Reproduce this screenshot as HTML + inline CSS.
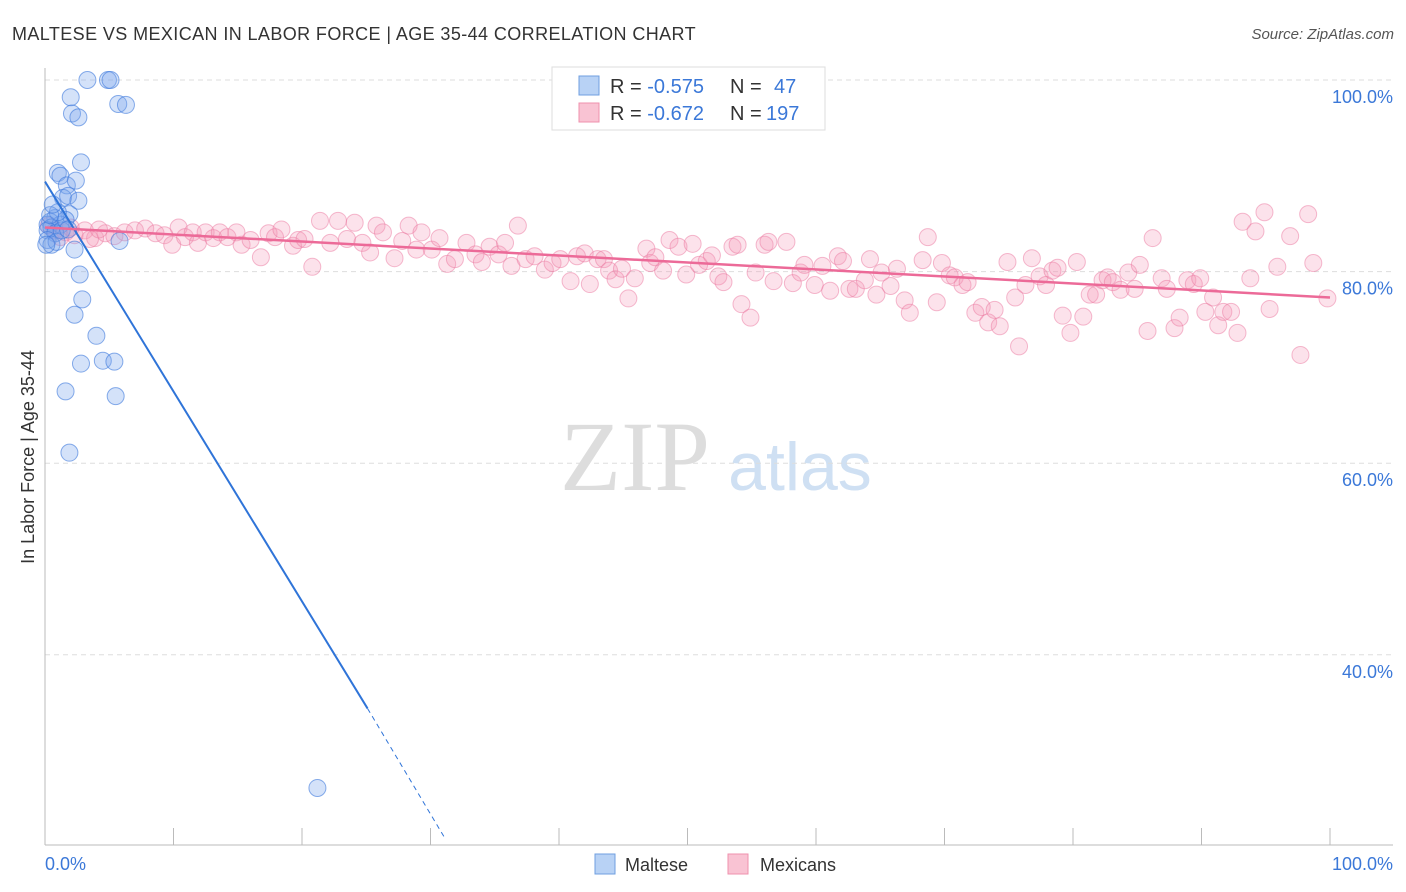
<!DOCTYPE html>
<html><head><meta charset="utf-8">
<style>
body{margin:0;background:#fff;font-family:"Liberation Sans",sans-serif;}
#wrap{position:relative;width:1406px;height:892px;overflow:hidden;}
</style></head>
<body>
<div id="wrap">
<svg id="svg" width="1406" height="892" xmlns="http://www.w3.org/2000/svg">
<text x="12" y="40" font-size="18" letter-spacing="0.4" fill="#333">MALTESE VS MEXICAN IN LABOR FORCE | AGE 35-44 CORRELATION CHART</text>
<text x="1394" y="39" font-size="15" fill="#555" text-anchor="end" font-style="italic">Source: ZipAtlas.com</text>
<text x="0" y="0" transform="translate(34,457) rotate(-90)" font-size="18" fill="#333" text-anchor="middle">In Labor Force | Age 35-44</text>
<g>
<text x="635" y="490" font-size="100" fill="#ddd" text-anchor="middle" font-family="Liberation Serif,serif">ZIP</text>
<text x="800" y="490" font-size="68" fill="#cfe0f3" text-anchor="middle">atlas</text>
</g>
<g id="grid"></g>
<g id="axes"></g>
<g id="pts"></g>
<g id="lines"></g>
<g>
<rect x="552" y="67" width="273" height="63" fill="#fff" stroke="#ddd"/>
<rect x="579" y="76" width="20" height="19" fill="#b8d2f5" stroke="#6f9fe0"/>
<rect x="579" y="103" width="20" height="19" fill="#f9c3d3" stroke="#ef90ae"/>
<text x="610" y="93" font-size="20" fill="#333">R = <tspan fill="#3b78d8">-0.575</tspan><tspan x="730">N = </tspan><tspan x="774" fill="#3b78d8">47</tspan></text>
<text x="610" y="120" font-size="20" fill="#333">R = <tspan fill="#3b78d8">-0.672</tspan><tspan x="730">N = </tspan><tspan x="766" fill="#3b78d8">197</tspan></text>
</g>
<g>
<rect x="595" y="854" width="20" height="20" fill="#b8d2f5" stroke="#6f9fe0"/>
<text x="625" y="871" font-size="18" fill="#333">Maltese</text>
<rect x="728" y="854" width="20" height="20" fill="#f9c3d3" stroke="#ef90ae"/>
<text x="760" y="871" font-size="18" fill="#333">Mexicans</text>
</g>
</svg>
</div>
<script>
const yTicks=[100,80,60,40];
const yTickLabels=["100.0%","80.0%","60.0%","40.0%"];
const xTicks=[0,10,20,30,40,50,60,70,80,90,100];
const xLabels=["0.0%","100.0%"];
const maltese=[[3.3,100],[4.9,100],[5.1,100],[2.0,98.2],[2.1,96.5],[2.6,96.1],[5.7,97.5],[6.3,97.4],[2.8,91.4],[1.0,90.3],[1.2,90.0],[1.7,89.0],[2.4,89.5],[1.4,87.7],[1.8,87.9],[2.6,87.4],[1.9,86.0],[0.8,85.6],[0.4,85.2],[0.2,84.9],[0.5,84.6],[1.2,84.9],[0.2,84.3],[0.8,84.0],[0.2,83.3],[0.5,82.8],[0.9,83.1],[2.3,82.3],[2.7,79.7],[2.9,77.1],[2.3,75.5],[4.0,73.3],[2.8,70.4],[4.5,70.7],[5.4,70.6],[1.6,67.5],[5.5,67.0],[1.9,61.1],[21.2,26.1],[5.8,83.2],[1.3,84.3],[1.6,85.4],[1.0,86.2],[0.4,85.9],[0.6,87.0],[0.1,82.8],[1.8,84.4]];
const mexicans=[[0.8,84.3],[1.6,84.1],[2.3,83.8],[3.1,84.3],[3.9,83.5],[4.7,84.0],[5.4,83.7],[6.2,84.1],[7.0,84.3],[7.8,84.5],[8.6,84.0],[9.3,83.8],[9.9,82.8],[10.4,84.6],[10.9,83.6],[11.5,84.1],[11.9,83.0],[12.5,84.1],[13.1,83.5],[13.6,84.1],[14.2,83.6],[14.9,84.1],[15.3,82.8],[16.0,83.3],[16.8,81.5],[17.4,84.0],[17.9,83.6],[18.4,84.4],[19.3,82.7],[19.7,83.3],[20.2,83.4],[20.8,80.5],[21.4,85.3],[22.2,83.0],[22.8,85.3],[23.5,83.4],[24.1,85.1],[24.7,83.0],[25.3,82.0],[25.8,84.8],[26.3,84.1],[27.2,81.4],[27.8,83.2],[28.3,84.8],[28.9,82.3],[29.3,84.1],[30.1,82.3],[30.7,83.5],[31.3,80.8],[31.9,81.3],[32.8,83.0],[33.5,81.8],[34.0,81.0],[34.6,82.6],[35.3,81.8],[35.8,83.0],[36.3,80.6],[36.8,84.8],[37.4,81.3],[38.1,81.6],[38.9,80.2],[39.5,80.9],[40.1,81.3],[40.9,79.0],[41.4,81.6],[42.0,81.9],[42.4,78.7],[43.0,81.3],[43.5,81.3],[43.9,80.1],[44.4,79.2],[44.9,80.3],[45.4,77.2],[45.9,79.3],[46.8,82.4],[47.1,80.9],[47.5,81.5],[48.1,80.1],[48.6,83.3],[49.3,82.6],[49.9,79.7],[50.4,82.9],[50.9,80.7],[51.5,81.1],[51.9,81.7],[52.4,79.5],[52.8,78.9],[53.5,82.6],[53.9,82.8],[54.2,76.6],[54.9,75.2],[55.3,79.9],[56.0,82.8],[56.3,83.1],[56.7,79.0],[57.7,83.1],[58.2,78.8],[58.8,79.9],[59.1,80.7],[59.9,78.6],[60.5,80.6],[61.1,78.0],[61.7,81.6],[62.1,81.1],[62.6,78.2],[63.1,78.2],[63.8,79.1],[64.2,81.3],[64.7,77.6],[65.1,79.9],[65.8,78.5],[66.3,80.3],[66.9,77.0],[67.3,75.7],[68.3,81.2],[68.7,83.6],[69.4,76.8],[69.8,80.9],[70.4,79.6],[70.8,79.4],[71.4,78.6],[71.8,78.9],[72.4,75.7],[72.9,76.3],[73.4,74.7],[73.9,76.0],[74.3,74.3],[74.9,81.0],[75.5,77.3],[75.8,72.2],[76.3,78.6],[76.8,81.4],[77.4,79.5],[77.9,78.6],[78.4,80.1],[78.8,80.4],[79.2,75.4],[79.8,73.6],[80.3,81.0],[80.8,75.3],[81.3,77.6],[81.8,77.6],[82.3,79.1],[82.7,79.4],[83.1,78.9],[83.7,78.1],[84.3,79.9],[84.8,78.2],[85.2,80.7],[85.8,73.8],[86.2,83.5],[86.9,79.3],[87.3,78.2],[87.9,74.1],[88.3,75.2],[88.9,79.1],[89.4,78.7],[89.9,79.3],[90.3,75.8],[90.9,77.3],[91.3,74.4],[91.7,75.8],[92.3,75.8],[92.8,73.6],[93.2,85.2],[93.8,79.3],[94.2,84.2],[94.9,86.2],[95.3,76.1],[95.9,80.5],[96.9,83.7],[97.7,71.3],[98.3,86.0],[98.7,80.9],[99.8,77.2],[0.3,84.8],[1.2,83.6],[2.0,84.6],[3.5,83.4],[4.2,84.4]];
const blueSolid=[[0,89.4],[25.1,34.4]];
const blueDash=[[25.1,34.4],[31.1,20.9]];
const pinkTrend=[[0,84.6],[100,77.3]];

const NS="http://www.w3.org/2000/svg";
const X=v=>45+v*12.85;
const Y=v=>80+(100-v)*9.58;
function mk(t,a,p){const e=document.createElementNS(NS,t);for(const k in a)e.setAttribute(k,a[k]);p.appendChild(e);return e;}
const grid=document.getElementById('grid'),axes=document.getElementById('axes'),pts=document.getElementById('pts'),lines=document.getElementById('lines');
yTicks.forEach((v,i)=>{
  const l=mk('line',{x1:45,x2:1393,y1:Y(v),y2:Y(v),stroke:'#ddd','stroke-dasharray':'5,4'},grid);
  
  
  const t=mk('text',{x:1393,y:Y(v)+23,'font-size':18,fill:'#3b78d8','text-anchor':'end'},axes);
  t.textContent=yTickLabels[i];
  
  
});
const ax=mk('line',{x1:45,x2:1393,y1:845,y2:845,stroke:'#bbb'},axes);


const ay=mk('line',{x1:45,x2:45,y1:68,y2:845,stroke:'#bbb'},axes);


xTicks.forEach(v=>{
  const t=mk('line',{x1:X(v),x2:X(v),y1:828,y2:845,stroke:'#bbb'},axes);
  
  
});
const xl0=mk('text',{x:45,y:870,'font-size':18,fill:'#3b78d8'},axes);xl0.textContent=xLabels[0];


const xl1=mk('text',{x:1393,y:870,'font-size':18,fill:'#3b78d8','text-anchor':'end'},axes);xl1.textContent=xLabels[1];


mexicans.forEach(d=>{
  const c=mk('circle',{cx:X(d[0]),cy:Y(d[1]),r:8.5,fill:'rgba(244,150,182,0.28)',stroke:'rgba(236,120,160,0.5)','stroke-width':1},pts);
  
  
});
maltese.forEach(d=>{
  const c=mk('circle',{cx:X(d[0]),cy:Y(d[1]),r:8.5,fill:'rgba(120,165,235,0.32)',stroke:'rgba(60,120,220,0.6)','stroke-width':1},pts);
  
  
});
const b1=mk('line',{x1:X(blueSolid[0][0]),y1:Y(blueSolid[0][1]),x2:X(blueSolid[1][0]),y2:Y(blueSolid[1][1]),stroke:'#2f74d8','stroke-width':2},lines);


const b2=mk('line',{x1:X(blueDash[0][0]),y1:Y(blueDash[0][1]),x2:X(blueDash[1][0]),y2:Y(blueDash[1][1]),stroke:'#2f74d8','stroke-width':1,'stroke-dasharray':'5,4'},lines);


const p1=mk('line',{x1:X(pinkTrend[0][0]),y1:Y(pinkTrend[0][1]),x2:X(pinkTrend[1][0]),y2:Y(pinkTrend[1][1]),stroke:'#ec6a98','stroke-width':2.5},lines);


</script>
</body></html>
